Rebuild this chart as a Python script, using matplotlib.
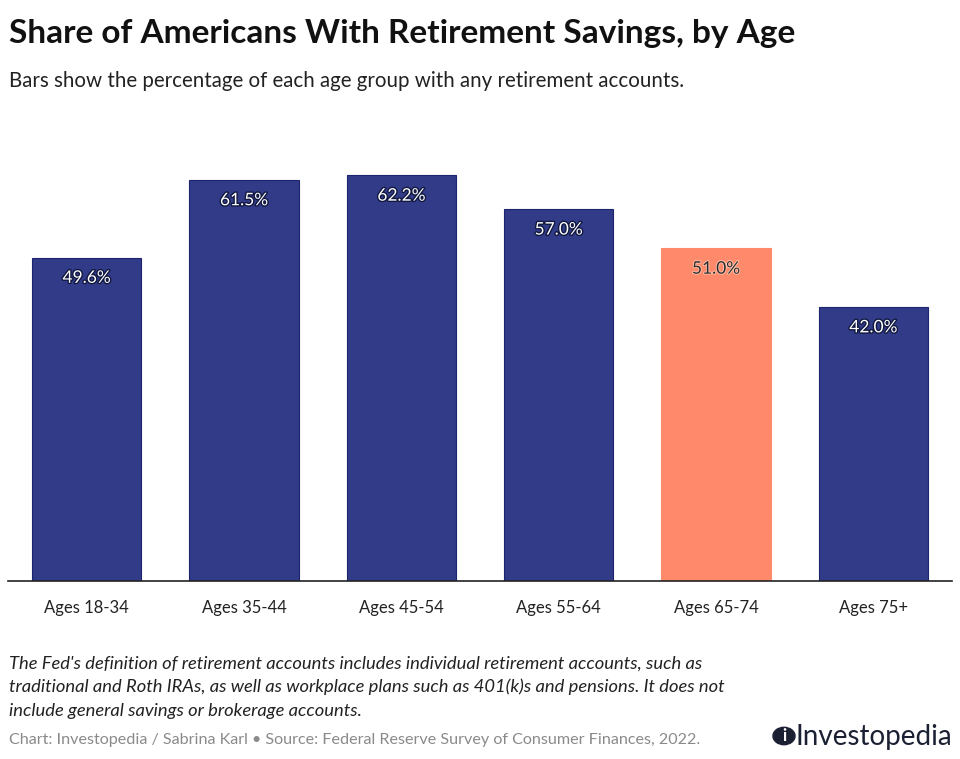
import matplotlib
matplotlib.use("Agg")
import matplotlib.pyplot as plt
import matplotlib.patheffects as pe

plt.rcParams["font.family"] = ["Lato", "DejaVu Sans"]

ages = ["Ages 18-34", "Ages 35-44", "Ages 45-54", "Ages 55-64", "Ages 65-74", "Ages 75+"]
shares = [49.6, 61.5, 62.2, 57.0, 51.0, 42.0]
highlight = "Ages 65-74"

navy = "#323b88"
coral = "#ff8a6b"

fig = plt.figure(figsize=(9.6, 7.59), dpi=100)
ax = fig.add_axes([8 / 960, 1 - 581 / 759, 944 / 960, 481 / 759])

colors = [coral if a == highlight else navy for a in ages]
edges = [coral if a == highlight else "#1c2470" for a in ages]
x = range(len(ages))
bars = ax.bar(x, shares, width=0.695, color=colors, edgecolor=edges, linewidth=0.8)

for b, a, v in zip(bars, ages, shares):
    if a == highlight:
        col, glow, lw = "#2a2a2a", "#ffc8b4", 1.2
    else:
        col, glow, lw = "white", "#111840", 2
    ax.text(b.get_x() + b.get_width() / 2, v - 3.1, f"{v:.1f}%", ha="center", va="center",
            fontsize=12.5, color=col,
            path_effects=[pe.withStroke(linewidth=lw, foreground=glow)])

ax.set_xlim(-0.5, 5.5)
ax.set_ylim(0, 481 / 6.52)
ax.set_xticks(list(x))
ax.set_xticklabels(ages, fontsize=12, color="#222222")
ax.tick_params(axis="x", length=0, pad=14)
ax.set_yticks([])
for s in ["top", "right", "left"]:
    ax.spines[s].set_visible(False)
ax.spines["bottom"].set_color("#222222")
ax.spines["bottom"].set_linewidth(1.2)

fig.text(9 / 960, 1 - 33 / 759, "Share of Americans With Retirement Savings, by Age",
         fontsize=24, fontweight="bold", color="#111111", va="center")
fig.text(9 / 960, 1 - 81 / 759, "Bars show the percentage of each age group with any retirement accounts.",
         fontsize=14.8, color="#222222", va="center")

note = ("The Fed's definition of retirement accounts includes individual retirement accounts, such as\n"
        "traditional and Roth IRAs, as well as workplace plans such as 401(k)s and pensions. It does not\n"
        "include general savings or brokerage accounts.")
fig.text(9 / 960, 1 - 687 / 759, note, fontsize=13.2, style="italic", color="#222222",
         va="center", linespacing=1.55)
fig.text(9 / 960, 1 - 740 / 759,
         "Chart: Investopedia / Sabrina Karl \u2022 Source: Federal Reserve Survey of Consumer Finances, 2022.",
         fontsize=11.6, color="#8a8a8a", va="center")

# logo
fig.text(952 / 960, 1 - 737 / 759, "Investopedia", fontsize=20, color="#1b2033",
         ha="right", va="center")
fig.patches.append(plt.Circle((784 / 960, 1 - 736 / 759), 11 / 960, transform=fig.transFigure,
                              color="#1b2033"))
fig.text(784 / 960, 1 - 736 / 759, "i", fontsize=12, fontweight="bold", color="white",
         ha="center", va="center")

fig.savefig("out.png", dpi=100)
